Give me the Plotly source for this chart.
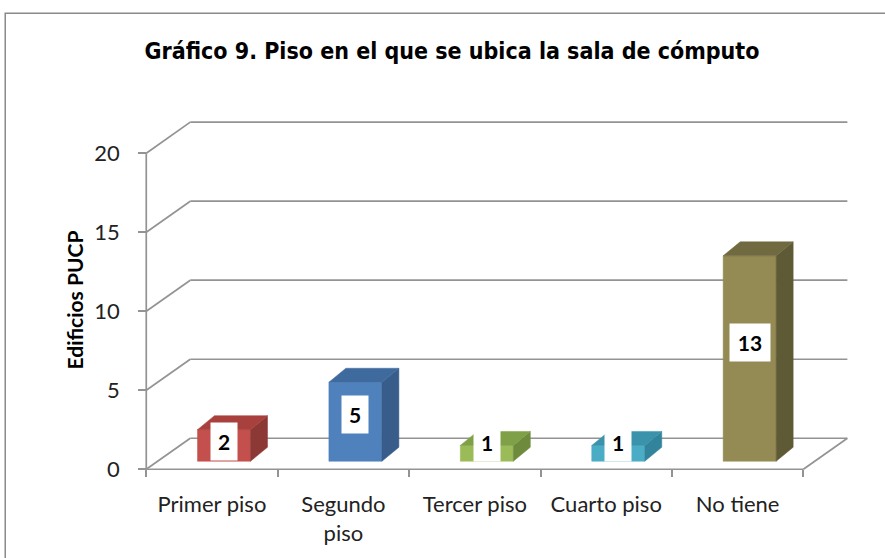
import plotly.graph_objects as go

# ---------------- data ----------------
categories = ["Primer piso", "Segundo<br>piso", "Tercer piso", "Cuarto piso", "No tiene"]
values = [2, 5, 1, 1, 13]
y_ticks = [0, 5, 10, 15, 20]
title_text = "Gráfico 9. Piso en el que se ubica la sala de cómputo"
y_title = "Edificios PUCP"

front_colors = ["#C4504D", "#4F81BD", "#9BBB59", "#4BACC6", "#948A54"]
side_colors = ["#8C3835", "#385D8A", "#6E8B3D", "#31849B", "#5F5A36"]
top_colors = ["#A8403D", "#3F6A9E", "#7FA046", "#3A93AB", "#716A40"]

# ---------------- geometry (styling) ----------------
W, H = 885, 558
PXX = 131.4          # px per category
PXY = 15.8           # px per value unit
ORIGIN_X, ORIGIN_Y = 146, 469   # pixel of (0.5, 0)
XR = [0.46, 5.87]
YR = [-0.3, 22.1]
DEP_X, DEP_Y = 44 / PXX, 31 / PXY           # full depth of the 3D box
BAR_OFF_X, BAR_OFF_Y = 12 / PXX, 8 / PXY    # bar front offset into depth
BAR_DX, BAR_DY = 17 / PXX, 14 / PXY         # bar depth
BAR_HALF = 26.5 / PXX

ml = ORIGIN_X - (0.5 - XR[0]) * PXX
pw = (XR[1] - XR[0]) * PXX
mr = W - ml - pw
mb_pix = ORIGIN_Y + (0 - YR[0]) * PXY
ph = (YR[1] - YR[0]) * PXY
mt = mb_pix - ph
mb = H - mb_pix

GRID = "#939393"
GW = 1.7
LABEL_FONT = "Lato"

fig = go.Figure()

def line(xs, ys):
    fig.add_trace(go.Scatter(x=xs, y=ys, mode="lines", line=dict(color=GRID, width=GW),
                             hoverinfo="skip", showlegend=False))

n = len(categories)
x_front_l, x_front_r = 0.5, n + 0.5
for v in y_ticks:
    line([x_front_l + DEP_X, x_front_r + DEP_X], [v + DEP_Y, v + DEP_Y])
    line([x_front_l, x_front_l + DEP_X], [v, v + DEP_Y])
line([x_front_l, x_front_r], [0, 0])
line([x_front_r, x_front_r + DEP_X], [0, DEP_Y])
line([x_front_l, x_front_l], [0, max(y_ticks)])

def poly(xs, ys, color):
    fig.add_trace(go.Scatter(x=xs + [xs[0]], y=ys + [ys[0]], mode="lines", fill="toself",
                             fillcolor=color, line=dict(color=color, width=0.5),
                             hoverinfo="skip", showlegend=False))

for i, v in enumerate(values):
    c = i + 1 + BAR_OFF_X
    xl, xr = c - BAR_HALF, c + BAR_HALF
    b = BAR_OFF_Y
    t = v + BAR_OFF_Y
    poly([xl, xr, xr, xl], [b, b, t, t], front_colors[i])
    poly([xr, xr + BAR_DX, xr + BAR_DX, xr], [b, b + BAR_DY, t + BAR_DY, t], side_colors[i])
    poly([xl, xr, xr + BAR_DX, xl + BAR_DX], [t, t, t + BAR_DY, t + BAR_DY], top_colors[i])
    ly = max(v * 9 / PXY + 10 / PXY, 27 / PXY)
    fig.add_annotation(x=c, y=ly,
                       text="<b>%d</b>" % v, showarrow=False,
                       font=dict(family=LABEL_FONT, size=21, color="black"),
                       bgcolor="white", width=26 if v < 10 else 40, height=37, borderpad=0)

# chart border
fig.add_shape(type="rect", xref="paper", yref="paper",
              x0=(5 - ml) / pw, x1=(W + 10 - ml) / pw,
              y0=(mb - H - 10) / ph, y1=(H - 13 - mb) / ph,
              line=dict(color="#8A8A8A", width=1.5), fillcolor="rgba(0,0,0,0)", layer="below")

fig.update_layout(
    width=W, height=H,
    margin=dict(l=ml, r=mr, t=mt, b=mb, pad=0),
    paper_bgcolor="white", plot_bgcolor="white",
    showlegend=False,
    title=dict(text="<b>" + title_text + "</b>", x=452 / W, xref="container",
               xanchor="center", y=1 - 51 / H, yanchor="middle",
               font=dict(family="DejaVu Sans Condensed, Liberation Sans Narrow, Roboto Condensed", size=23, color="black")),
    xaxis=dict(range=XR, showgrid=False, zeroline=False, showline=False,
               tickmode="array", tickvals=list(range(1, n + 1)), ticktext=categories,
               ticks="", ticklabelstandoff=20,
               minor=dict(tickmode="array", tickvals=[k + 0.5 for k in range(n + 1)],
                          ticks="outside", ticklen=7, tickcolor=GRID, tickwidth=GW, showgrid=False),
               tickfont=dict(family=LABEL_FONT, size=22, color="#222222"),
               anchor="free", position=(0 - YR[0]) / (YR[1] - YR[0])),
    yaxis=dict(range=YR, showgrid=False, zeroline=False, showline=False,
               tickmode="array", tickvals=y_ticks, ticks="outside", ticklen=8,
               tickcolor=GRID, tickwidth=GW, ticklabelstandoff=14,
               tickfont=dict(family=LABEL_FONT, size=22, color="#222222"),
               anchor="free", position=(0.5 - XR[0]) / (XR[1] - XR[0])),
)

fig.add_annotation(x=(74 - ml) / pw, y=(H - 300 - mb) / ph, xref="paper", yref="paper",
                   xanchor="center", yanchor="middle",
                   text="<b>" + y_title + "</b>", textangle=-90, showarrow=False,
                   font=dict(family=LABEL_FONT, size=21, color="black"))

fig.write_html("out.html", post_script="document.body.style.margin='0';",
               config={"displayModeBar": False})
